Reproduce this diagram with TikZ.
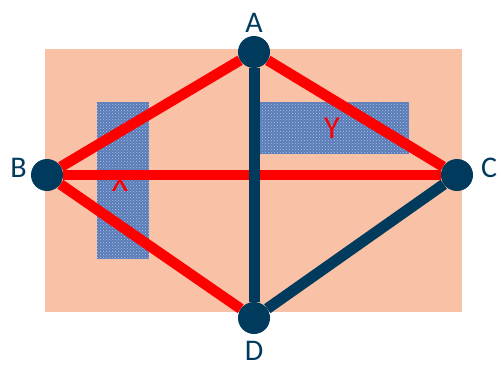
\documentclass[tikz,border=0pt]{standalone}
\usepackage{fontspec}
\setmainfont{Carlito}
\usetikzlibrary{backgrounds, patterns}
\definecolor{cnavy}{HTML}{003A5C}
\definecolor{cred}{HTML}{FF0000}
\definecolor{cpeach}{HTML}{F9C1A5}
\definecolor{ccloth}{HTML}{5A7BB6}
\definecolor{cclothlt}{HTML}{A9C3EC}
\tikzset{
  every picture/.style={x=1pt, y=-1pt},
  vtx/.style={circle, fill=cnavy, minimum size=32pt, inner sep=0pt},
  lbl/.style={text=cnavy, font=\fontsize{30}{34}\selectfont, inner sep=0pt},
  area/.style={fill=ccloth, postaction={pattern=crosshatch dots, pattern color=cclothlt}},
  redge/.style={draw=cred, line width=10.5pt},
  nedge/.style={draw=cnavy, line width=11pt},
  tag/.style={text=cred, font=\fontsize{32}{36}\selectfont, inner sep=0pt},
}

\begin{document}
\begin{tikzpicture}
  \useasboundingbox (0,0) rectangle (501,367);
  \node[vtx] (A) at (254,52) {};
  \node[vtx] (B) at (47,175) {};
  \node[vtx] (C) at (457,175) {};
  \node[vtx] (D) at (254,318) {};
  \node[lbl, anchor=south] (lA) at (254,33) {A};
  \node[lbl, anchor=east] (lB) at (27,168) {B};
  \node[lbl, anchor=west] (lC) at (481,168) {C};
  \node[lbl, anchor=north] (lD) at (254,341) {D};
  \begin{pgfonlayer}{background}
    \fill[cpeach] (45,49) rectangle (462,312);
    \fill[area] (97,102) rectangle (149,259);
    \fill[area] (259,102) rectangle (409,154);
    \node[tag] (X) at (120,181) {X};
    \node[tag] (Y) at (332,128) {Y};
    % red and navy edges
    \draw[redge] (A) -- (B);
    \draw[redge] (A) -- (C);
    \draw[redge] (B) -- (C);
    \draw[redge] (B) -- (D);
    \draw[nedge] (A) -- (D);
    \draw[nedge] (D) -- (C);
  \end{pgfonlayer}
\end{tikzpicture}
\end{document}
